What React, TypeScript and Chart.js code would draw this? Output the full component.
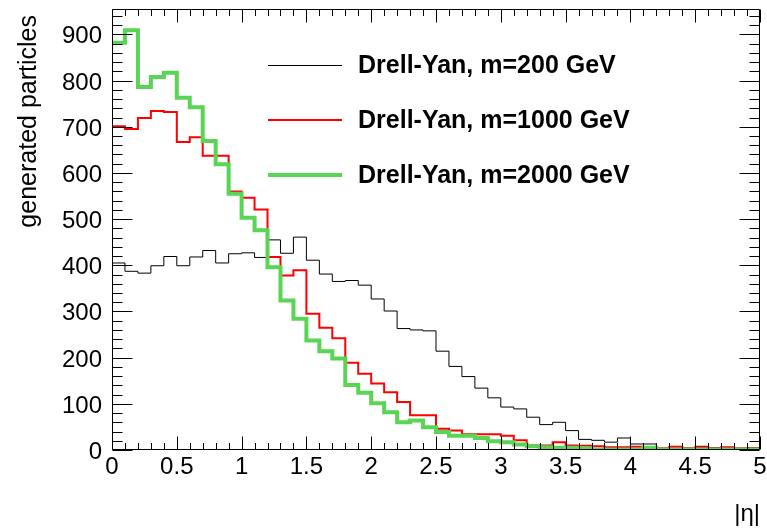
import React, { useEffect, useRef } from "react";
import { Chart, registerables } from "chart.js";

Chart.register(...registerables);

// |eta| histogram: 50 bins of width 0.1 between 0 and 5
const ETA_MIN = 0;
const ETA_MAX = 5;
const BIN_WIDTH = 0.1;
const Y_MAX = 955;

const dy200 = [
  405, 387, 383, 399, 419, 399, 418, 432, 405, 425,
  427, 417, 455, 426, 461, 411, 381, 365, 367, 357,
  327, 301, 263, 260, 258, 214, 181, 159, 134, 113,
  93, 89, 71, 55, 60, 42, 23, 21, 17, 26,
  13, 13, 3, 7, 4, 8, 5, 4, 3, 5,
];

const dy1000 = [
  701, 695, 719, 734, 732, 667, 677, 637, 637, 560,
  546, 521, 418, 378, 389, 295, 265, 242, 189, 165,
  144, 125, 104, 75, 75, 46, 42, 34, 34, 34,
  31, 21, 10, 10, 17, 10, 9, 8, 6, 6,
  7, 6, 4, 7, 4, 6, 4, 6, 4, 4,
];

const dy2000 = [
  882, 909, 786, 808, 817, 763, 742, 669, 619, 555,
  503, 476, 396, 324, 284, 237, 214, 198, 141, 124,
  101, 82, 60, 64, 49, 39, 31, 31, 26, 19,
  17, 12, 8, 6, 5, 5, 4, 1, 1, 1,
  1, 5, 1, 1, 1, 1, 1, 1, 1, 1,
];

const seriesLabels = [
  "Drell-Yan, m=200 GeV",
  "Drell-Yan, m=1000 GeV",
  "Drell-Yan, m=2000 GeV",
];
const seriesColors = ["#000000", "#ff0000", "#5ad454"];
const seriesWidths = [1, 2, 4];

const xTickLabels = ["0", "0.5", "1", "1.5", "2", "2.5", "3", "3.5", "4", "4.5", "5"];
const yTickLabels = ["0", "100", "200", "300", "400", "500", "600", "700", "800", "900"];
const xMinorTicks = [0, 0.1, 0.2, 0.3, 0.4, 0.5, 0.6, 0.7, 0.8, 0.9, 1, 1.1, 1.2, 1.3, 1.4, 1.5, 1.6, 1.7, 1.8, 1.9, 2, 2.1, 2.2, 2.3, 2.4, 2.5, 2.6, 2.7, 2.8, 2.9, 3, 3.1, 3.2, 3.3, 3.4, 3.5, 3.6, 3.7, 3.8, 3.9, 4, 4.1, 4.2, 4.3, 4.4, 4.5, 4.6, 4.7, 4.8, 4.9, 5];
const yMinorTicks = [0, 20, 40, 60, 80, 100, 120, 140, 160, 180, 200, 220, 240, 260, 280, 300, 320, 340, 360, 380, 400, 420, 440, 460, 480, 500, 520, 540, 560, 580, 600, 620, 640, 660, 680, 700, 720, 740, 760, 780, 800, 820, 840, 860, 880, 900, 920, 940];

const xTitle = "|η|";
const yTitle = "generated particles";

const FONT = '"Liberation Sans", Arial, Helvetica, sans-serif';

// Bin contents -> step points at the lower bin edges plus the closing upper edge
function histPoints(values: number[]) {
  const pts = values.map((v, i) => ({ x: ETA_MIN + i * BIN_WIDTH, y: v }));
  pts.push({ x: ETA_MAX, y: values[values.length - 1] });
  return pts;
}

const framePlugin = {
  id: "frameAxes",
  afterDatasetsDraw(chart: any) {
    const { ctx, chartArea: a, scales } = chart;
    const xs = scales.x;
    const ys = scales.y;
    const L = Math.round(a.left) + 0.5;
    const R = Math.round(a.right) - 0.5;
    const T = Math.round(a.top) + 0.5;
    const B = Math.round(a.bottom) - 0.5;

    ctx.save();
    ctx.strokeStyle = "#000";
    ctx.lineWidth = 1;
    ctx.beginPath();
    ctx.rect(L, T, R - L, B - T);

    const xMajor = 13;
    const xMinor = 6.5;
    const yMajor = 20;
    const yMinor = 10;

    xMinorTicks.forEach((v, i) => {
      const px = Math.round(xs.getPixelForValue(v)) + 0.5;
      const len = i % 5 === 0 ? xMajor : xMinor;
      ctx.moveTo(px, B);
      ctx.lineTo(px, B - len);
      ctx.moveTo(px, T);
      ctx.lineTo(px, T + len);
    });
    yMinorTicks.forEach((v, i) => {
      const py = Math.round(ys.getPixelForValue(v)) + 0.5;
      const len = i % 5 === 0 ? yMajor : yMinor;
      ctx.moveTo(L, py);
      ctx.lineTo(L + len, py);
      ctx.moveTo(R, py);
      ctx.lineTo(R - len, py);
    });
    ctx.stroke();

    // tick labels
    ctx.fillStyle = "#000";
    ctx.font = `24px ${FONT}`;
    ctx.textAlign = "right";
    ctx.textBaseline = "alphabetic";
    yTickLabels.forEach((t) => {
      const py = ys.getPixelForValue(Number(t));
      ctx.fillText(t, 102, py + 9);
    });
    ctx.textAlign = "center";
    xTickLabels.forEach((t) => {
      const px = xs.getPixelForValue(Number(t));
      ctx.fillText(t, px, 474);
    });

    // axis titles
    ctx.textAlign = "right";
    ctx.fillText(xTitle, a.right, 521);
    ctx.save();
    ctx.font = `25px ${FONT}`;
    ctx.translate(29, a.top + 6);
    ctx.rotate(-Math.PI / 2);
    ctx.textAlign = "right";
    ctx.textBaseline = "middle";
    ctx.fillText(yTitle, 0, 0);
    ctx.restore();

    // legend
    const rows = [65, 120, 175];
    ctx.font = `bold 25px ${FONT}`;
    ctx.textAlign = "left";
    ctx.textBaseline = "middle";
    seriesLabels.forEach((label, i) => {
      ctx.beginPath();
      ctx.strokeStyle = seriesColors[i];
      ctx.lineWidth = seriesWidths[i];
      const y = rows[i] + (seriesWidths[i] % 2 ? 0.5 : 0);
      ctx.moveTo(268, y);
      ctx.lineTo(342, y);
      ctx.stroke();
      ctx.fillStyle = "#000";
      ctx.fillText(label, 358, rows[i] + 1);
    });
    ctx.restore();
  },
};

export default function App() {
  const canvasRef = useRef<HTMLCanvasElement | null>(null);

  useEffect(() => {
    const canvas = canvasRef.current;
    if (!canvas) return;
    const series = [dy200, dy1000, dy2000];
    const chart = new Chart(canvas, {
      type: "line",
      data: {
        datasets: series.map((values, i) => ({
          label: seriesLabels[i],
          data: histPoints(values),
          borderColor: seriesColors[i],
          borderWidth: seriesWidths[i],
          backgroundColor: "transparent",
          fill: false,
          stepped: true,
          pointRadius: 0,
          pointHoverRadius: 0,
          tension: 0,
          order: 3 - i,
        })),
      },
      options: {
        responsive: false,
        animation: false,
        devicePixelRatio: 1,
        layout: { padding: { left: 112, right: 7, top: 9, bottom: 79 } },
        plugins: {
          legend: { display: false },
          tooltip: { enabled: false },
          title: { display: false },
        },
        events: [],
        scales: {
          x: { type: "linear", min: ETA_MIN, max: ETA_MAX, display: false },
          y: { type: "linear", min: 0, max: Y_MAX, display: false },
        },
      },
      plugins: [framePlugin],
    });
    return () => chart.destroy();
  }, []);

  return (
    <div style={{ position: "fixed", left: 0, top: 0, width: 767, height: 529, background: "#fff" }}>
      <canvas ref={canvasRef} width={767} height={529} />
    </div>
  );
}
